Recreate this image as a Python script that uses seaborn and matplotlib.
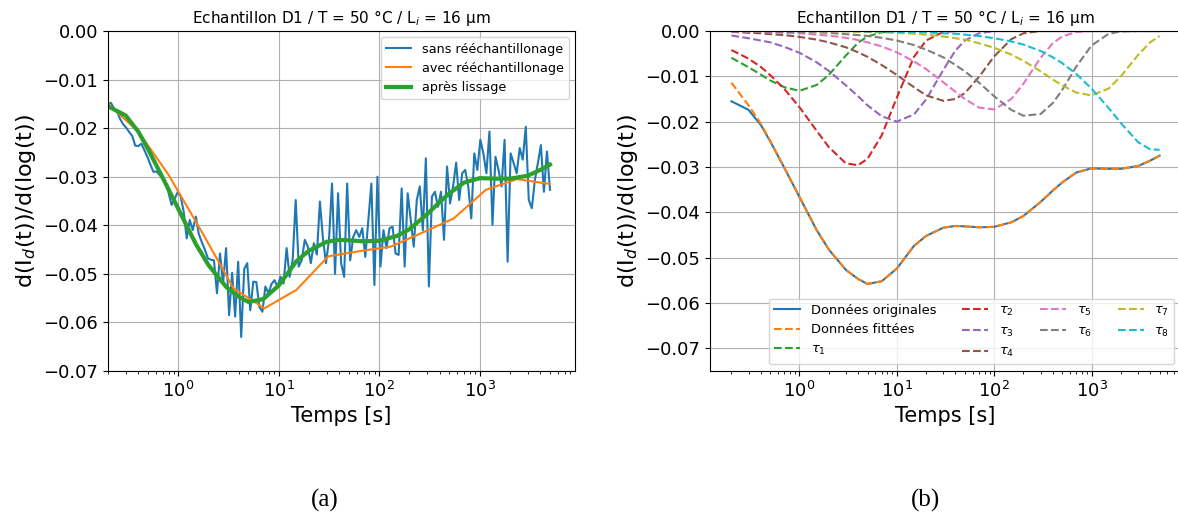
import numpy as np
import matplotlib
matplotlib.use('Agg')
import matplotlib.pyplot as plt
import seaborn as sns

# ---- data ----
# raw derivative (no resampling), log-spaced samples from 0.2 s to 5000 s
raw_vals = [
    -0.0150, -0.0148, -0.0160, -0.0166, -0.0181, -0.0192, -0.0199, -0.0208, -0.0216, -0.0236,
    -0.0237, -0.0232, -0.0245, -0.0259, -0.0275, -0.0290, -0.0289, -0.0296, -0.0303, -0.0312,
    -0.0333, -0.0358, -0.0346, -0.0332, -0.0340, -0.0372, -0.0427, -0.0389, -0.0410, -0.0382,
    -0.0418, -0.0435, -0.0450, -0.0468, -0.0471, -0.0472, -0.0540, -0.0458, -0.0520, -0.0447,
    -0.0585, -0.0498, -0.0588, -0.0475, -0.0630, -0.0490, -0.0478, -0.0575, -0.0516, -0.0517,
    -0.0568, -0.0578, -0.0526, -0.0540, -0.0521, -0.0513, -0.0526, -0.0506, -0.0520, -0.0447,
    -0.0506, -0.0472, -0.0348, -0.0485, -0.0472, -0.0430, -0.0444, -0.0478, -0.0437, -0.0460,
    -0.0351, -0.0427, -0.0478, -0.0430, -0.0314, -0.0500, -0.0334, -0.0478, -0.0506, -0.0314,
    -0.0472, -0.0424, -0.0410, -0.0424, -0.0406, -0.0465, -0.0389, -0.0314, -0.0523, -0.0300,
    -0.0485, -0.0410, -0.0447, -0.0406, -0.0403, -0.0458, -0.0461, -0.0324, -0.0485, -0.0334,
    -0.0389, -0.0444, -0.0348, -0.0320, -0.0410, -0.0262, -0.0526, -0.0341, -0.0331, -0.0362,
    -0.0331, -0.0430, -0.0279, -0.0355, -0.0320, -0.0271, -0.0348, -0.0293, -0.0286, -0.0320,
    -0.0386, -0.0252, -0.0286, -0.0224, -0.0252, -0.0293, -0.0207, -0.0399, -0.0259, -0.0286,
    -0.0320, -0.0224, -0.0475, -0.0252, -0.0272, -0.0293, -0.0241, -0.0265, -0.0197, -0.0348,
    -0.0365, -0.0307, -0.0272, -0.0235, -0.0331, -0.0248, -0.0327,
]
t_raw = np.geomspace(0.2, 5000, len(raw_vals))

# resampled derivative
t_resamp = [0.2, 0.4, 0.8, 1.7, 3.55, 7.2, 15, 31, 65, 130, 270, 550, 1150, 2350, 5000]
resamp_vals = [-0.0150, -0.0207, -0.0296, -0.0412, -0.0530, -0.0571, -0.0533, -0.0464,
               -0.0453, -0.0444, -0.0415, -0.0386, -0.0327, -0.0305, -0.0315]

# smoothed / fitted curves and the 8 time-constant components
t_fit = [0.2, 0.3, 0.4, 0.5, 0.7, 1, 1.5, 2, 3, 4, 5, 7, 10, 15, 20, 30, 40, 50, 70, 100,
         150, 200, 300, 400, 500, 700, 1000, 1500, 2000, 3000, 4000, 5000]
smooth_vals = [-0.0155, -0.0174, -0.0207, -0.0243, -0.0302, -0.0366, -0.0439, -0.0482,
               -0.0527, -0.0547, -0.0558, -0.0552, -0.0524, -0.0474, -0.0452, -0.0434,
               -0.0430, -0.0431, -0.0433, -0.0432, -0.0422, -0.0408, -0.0377, -0.0352,
               -0.0334, -0.0312, -0.0303, -0.0304, -0.0304, -0.0298, -0.0286, -0.0275]
fit_vals = [-0.0114, -0.0164, -0.0204, -0.0242, -0.0302, -0.0366, -0.0439, -0.0482,
            -0.0527, -0.0547, -0.0558, -0.0552, -0.0524, -0.0474, -0.0452, -0.0434,
            -0.0430, -0.0431, -0.0433, -0.0432, -0.0422, -0.0408, -0.0377, -0.0352,
            -0.0334, -0.0312, -0.0303, -0.0304, -0.0304, -0.0298, -0.0286, -0.0275]

tau1 = [-0.0059, -0.0080, -0.0096, -0.0109, -0.0124, -0.0132, -0.0119, -0.0097, -0.0054, -0.0026,
        -0.0012, -0.0003] + [0.0] * 20
tau2 = [-0.0042, -0.0061, -0.0079, -0.0097, -0.0128, -0.0168, -0.0220, -0.0256, -0.0292, -0.0296,
        -0.0282, -0.0230, -0.0147, -0.0057, -0.0021, -0.0002] + [0.0] * 16
tau3 = [-0.0010, -0.0016, -0.0021, -0.0025, -0.0035, -0.0048, -0.0069, -0.0088, -0.0120, -0.0144,
        -0.0164, -0.0188, -0.0200, -0.0184, -0.0151, -0.0086, -0.0043, -0.0021, -0.0005] + [0.0] * 13
tau4 = [-0.0002, -0.0004, -0.0005, -0.0007, -0.0009, -0.0013, -0.0019, -0.0025, -0.0036, -0.0047,
        -0.0057, -0.0075, -0.0097, -0.0124, -0.0142, -0.0154, -0.0150, -0.0137, -0.0101, -0.0056,
        -0.0018, -0.0005] + [0.0] * 10
tau5 = [-0.0001, -0.0002, -0.0002, -0.0003, -0.0004, -0.0005, -0.0008, -0.0010, -0.0015, -0.0020,
        -0.0025, -0.0034, -0.0047, -0.0067, -0.0084, -0.0113, -0.0134, -0.0150, -0.0169, -0.0173,
        -0.0150, -0.0116, -0.0059, -0.0027, -0.0012, -0.0002] + [0.0] * 6
tau6 = [0.0, -0.0001, -0.0001, -0.0001, -0.0002, -0.0002, -0.0003, -0.0004, -0.0007, -0.0009,
        -0.0011, -0.0015, -0.0021, -0.0031, -0.0041, -0.0058, -0.0075, -0.0089, -0.0114, -0.0144,
        -0.0174, -0.0187, -0.0183, -0.0159, -0.0130, -0.0078, -0.0032, -0.0006, -0.0001, 0.0, 0.0, 0.0]
tau7 = [0.0, 0.0, 0.0, 0.0, 0.0, 0.0, -0.0001, -0.0001, -0.0001, -0.0002,
        -0.0002, -0.0003, -0.0004, -0.0006, -0.0008, -0.0012, -0.0016, -0.0019, -0.0027, -0.0037,
        -0.0052, -0.0066, -0.0089, -0.0107, -0.0120, -0.0136, -0.0142, -0.0127, -0.0100, -0.0053,
        -0.0025, -0.0011]
tau8 = [0.0] * 10 + [-0.0001, -0.0001, -0.0002, -0.0002, -0.0003, -0.0005, -0.0006, -0.0008,
                     -0.0011, -0.0016, -0.0023, -0.0030, -0.0044, -0.0058, -0.0071, -0.0095,
                     -0.0127, -0.0170, -0.0203, -0.0245, -0.0261, -0.0262]
components = [tau1, tau2, tau3, tau4, tau5, tau6, tau7, tau8]

title = 'Echantillon D1 / T = 50 °C / L$_i$ = 16 µm'
ylabel = 'd(I$_d$(t))/d(log(t))'
xlabel = 'Temps [s]'

# ---- figure ----
W, H = 1178, 518
fig = plt.figure(figsize=(W / 100, H / 100), dpi=100)
ax1 = fig.add_axes([108 / W, 1 - 371 / H, 467 / W, 340 / H])
ax2 = fig.add_axes([710 / W, 1 - 371 / H, 471 / W, 340 / H])  # runs off the right edge

# (a) effect of resampling and smoothing
ax1.set_xscale('log')
sns.lineplot(x=t_raw, y=raw_vals, ax=ax1, color='C0', lw=1.5, label='sans rééchantillonage')
sns.lineplot(x=t_resamp, y=resamp_vals, ax=ax1, color='C1', lw=1.5, label='avec rééchantillonage')
sns.lineplot(x=t_fit, y=smooth_vals, ax=ax1, color='C2', lw=3, label='après lissage')
ax1.set_xlim(0.2, 8870)
ax1.set_ylim(-0.07, 0.0)
ax1.legend(loc='upper right', fontsize=9.2)

# (b) fit with 8 time constants
ax2.set_xscale('log')
sns.lineplot(x=t_fit, y=smooth_vals, ax=ax2, color='C0', lw=1.5, label='Données originales')
sns.lineplot(x=t_fit, y=fit_vals, ax=ax2, color='C1', lw=1.5, linestyle='--', label='Données fittées')
for i, comp in enumerate(components):
    sns.lineplot(x=t_fit, y=comp, ax=ax2, color=f'C{i + 2}', lw=1.5, linestyle='--',
                 label=rf'$\tau_{i + 1}$')
ax2.set_ylim(-0.075, 0.0)
ax2.legend(ncol=4, fontsize=9.4, loc='lower right')

for ax in (ax1, ax2):
    ax.grid(True)
    ax.set_title(title, fontsize=11)
    ax.set_xlabel(xlabel, fontsize=15)
    ax.set_ylabel(ylabel, fontsize=16)
    ax.tick_params(labelsize=13)

fig.text(325 / W, 1 - 500 / H, '(a)', ha='center', va='center', fontsize=18, family='Liberation Serif')
fig.text(925 / W, 1 - 500 / H, '(b)', ha='center', va='center', fontsize=18, family='Liberation Serif')

fig.savefig('out.png', dpi=100)
